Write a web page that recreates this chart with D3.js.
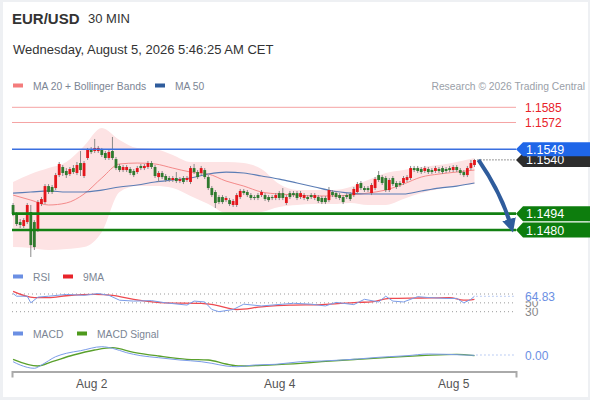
<!DOCTYPE html>
<html>
<head>
<meta charset="utf-8">
<script src="https://cdn.jsdelivr.net/npm/d3@7"></script>
<style>
  body { margin: 0; background: #eef0f3; }
  svg { display: block; font-family: "Liberation Sans", Arial, sans-serif; }
</style>
</head>
<body>
<svg width="590" height="400"></svg>
<script>
// ---- data ----
// 30 min candles, [open, high, low, close]
const ohlc = [
  [1.15014,1.15031,1.14919,1.14937],[1.14937,1.14954,1.14834,1.14851],[1.14868,1.14894,1.14817,1.14843],
  [1.14834,1.14902,1.14817,1.14885],[1.14868,1.15031,1.14851,1.15014],[1.14954,1.15014,1.14569,1.14671],
  [1.14868,1.14885,1.14629,1.14654],[1.14800,1.15056,1.14783,1.15039],[1.15022,1.15082,1.15005,1.15065],
  [1.15039,1.15193,1.15022,1.15176],[1.15176,1.15193,1.15108,1.15125],[1.15168,1.15185,1.15108,1.15125],
  [1.15159,1.15288,1.15142,1.15270],[1.15270,1.15382,1.15253,1.15365],[1.15339,1.15356,1.15262,1.15288],
  [1.15305,1.15330,1.15245,1.15270],[1.15279,1.15339,1.15262,1.15322],[1.15330,1.15356,1.15279,1.15296],
  [1.15288,1.15382,1.15270,1.15356],[1.15373,1.15476,1.15262,1.15313],[1.15262,1.15390,1.15245,1.15373],
  [1.15416,1.15502,1.15399,1.15485],[1.15493,1.15510,1.15450,1.15467],[1.15476,1.15579,1.15459,1.15502],
  [1.15476,1.15519,1.15459,1.15502],[1.15485,1.15502,1.15425,1.15442],[1.15459,1.15476,1.15399,1.15416],
  [1.15416,1.15485,1.15399,1.15467],[1.15476,1.15596,1.15399,1.15416],[1.15407,1.15425,1.15313,1.15330],
  [1.15348,1.15365,1.15296,1.15313],[1.15313,1.15356,1.15296,1.15339],[1.15313,1.15356,1.15296,1.15339],
  [1.15322,1.15339,1.15270,1.15288],[1.15305,1.15322,1.15253,1.15270],[1.15296,1.15348,1.15279,1.15330],
  [1.15348,1.15365,1.15313,1.15330],[1.15330,1.15365,1.15313,1.15348],[1.15339,1.15390,1.15322,1.15373],
  [1.15373,1.15390,1.15322,1.15339],[1.15339,1.15356,1.15245,1.15262],[1.15253,1.15305,1.15211,1.15288],
  [1.15288,1.15305,1.15236,1.15253],[1.15262,1.15279,1.15211,1.15228],[1.15245,1.15262,1.15211,1.15228],
  [1.15228,1.15262,1.15211,1.15245],[1.15245,1.15296,1.15202,1.15219],[1.15219,1.15253,1.15202,1.15236],
  [1.15245,1.15262,1.15193,1.15211],[1.15228,1.15262,1.15211,1.15245],[1.15211,1.15348,1.15193,1.15330],
  [1.15330,1.15365,1.15279,1.15296],[1.15296,1.15313,1.15236,1.15253],[1.15288,1.15348,1.15270,1.15330],
  [1.15313,1.15330,1.15236,1.15253],[1.15253,1.15270,1.15142,1.15159],[1.15159,1.15176,1.15082,1.15099],
  [1.15125,1.15142,1.14988,1.15031],[1.15082,1.15099,1.15022,1.15039],[1.15082,1.15099,1.15022,1.15039],
  [1.15056,1.15091,1.15039,1.15074],[1.15056,1.15074,1.15005,1.15022],[1.15014,1.15065,1.14997,1.15048],
  [1.15014,1.15116,1.14997,1.15099],[1.15082,1.15151,1.15065,1.15134],[1.15134,1.15151,1.15099,1.15116],
  [1.15125,1.15142,1.15082,1.15099],[1.15099,1.15116,1.15056,1.15074],[1.15082,1.15099,1.15056,1.15074],
  [1.15099,1.15116,1.15056,1.15074],[1.15099,1.15142,1.15082,1.15125],[1.15099,1.15116,1.15048,1.15065],
  [1.15082,1.15099,1.15039,1.15056],[1.15082,1.15099,1.15056,1.15074],[1.15074,1.15116,1.15056,1.15099],
  [1.15116,1.15134,1.15056,1.15074],[1.15116,1.15159,1.15056,1.15074],[1.15031,1.15099,1.15014,1.15082],
  [1.15116,1.15134,1.15065,1.15082],[1.15116,1.15134,1.15082,1.15099],[1.15116,1.15134,1.15056,1.15074],
  [1.15082,1.15134,1.15065,1.15116],[1.15074,1.15116,1.15056,1.15099],[1.15082,1.15099,1.15048,1.15065],
  [1.15099,1.15116,1.15065,1.15082],[1.15074,1.15116,1.15056,1.15099],[1.15082,1.15099,1.15031,1.15048],
  [1.15074,1.15091,1.15022,1.15039],[1.15074,1.15091,1.15022,1.15039],[1.15056,1.15168,1.15039,1.15142],
  [1.15125,1.15142,1.15082,1.15099],[1.15116,1.15134,1.15065,1.15082],[1.15099,1.15116,1.15056,1.15074],
  [1.15082,1.15099,1.15022,1.15039],[1.15099,1.15116,1.15065,1.15082],[1.15108,1.15125,1.15048,1.15065],
  [1.15099,1.15168,1.15082,1.15151],[1.15125,1.15211,1.15108,1.15193],[1.15202,1.15219,1.15142,1.15159],
  [1.15159,1.15176,1.15125,1.15142],[1.15159,1.15176,1.15125,1.15142],[1.15116,1.15202,1.15099,1.15185],
  [1.15159,1.15253,1.15142,1.15236],[1.15270,1.15305,1.15211,1.15228],[1.15253,1.15270,1.15185,1.15202],
  [1.15245,1.15262,1.15125,1.15142],[1.15142,1.15245,1.15125,1.15228],[1.15245,1.15262,1.15176,1.15193],
  [1.15202,1.15219,1.15151,1.15168],[1.15202,1.15219,1.15168,1.15185],[1.15202,1.15262,1.15185,1.15245],
  [1.15228,1.15270,1.15211,1.15253],[1.15245,1.15348,1.15228,1.15330],[1.15330,1.15348,1.15296,1.15313],
  [1.15330,1.15348,1.15288,1.15305],[1.15322,1.15339,1.15279,1.15296],[1.15305,1.15348,1.15288,1.15330],
  [1.15322,1.15339,1.15279,1.15296],[1.15313,1.15330,1.15279,1.15296],[1.15305,1.15348,1.15288,1.15330],
  [1.15322,1.15339,1.15288,1.15305],[1.15330,1.15348,1.15279,1.15296],[1.15322,1.15339,1.15288,1.15305],
  [1.15330,1.15348,1.15296,1.15313],[1.15313,1.15356,1.15296,1.15339],[1.15339,1.15356,1.15296,1.15313],
  [1.15313,1.15330,1.15270,1.15288],[1.15296,1.15313,1.15253,1.15270],[1.15270,1.15348,1.15253,1.15330],
  [1.15330,1.15399,1.15313,1.15373],[1.15356,1.15407,1.15339,1.15399]
];

// indicator samples (candle index -> value)
const bandIdx = d3.range(0, 131, 5);
const ma20    = [1.15099,1.15056,1.15014,1.15031,1.15108,1.15245,1.15365,1.15373,1.15365,1.15330,1.15296,1.15279,1.15219,1.15176,1.15125,1.15108,1.15099,1.15091,1.15091,1.15099,1.15116,1.15142,1.15193,1.15253,1.15279,1.15296,1.15313];
const bbUpper = [1.15211,1.15279,1.15330,1.15382,1.15519,1.15673,1.15570,1.15502,1.15493,1.15442,1.15382,1.15382,1.15382,1.15373,1.15322,1.15193,1.15142,1.15142,1.15142,1.15168,1.15228,1.15288,1.15313,1.15339,1.15356,1.15382,1.15416];
const bbLower = [1.14654,1.14646,1.14629,1.14637,1.14654,1.14783,1.15125,1.15176,1.15176,1.15159,1.15091,1.15022,1.14945,1.14937,1.14954,1.14997,1.15014,1.15022,1.15022,1.15031,1.15014,1.15014,1.15065,1.15116,1.15151,1.15176,1.15193];
const ma50    = [1.15116,1.15125,1.15134,1.15125,1.15125,1.15142,1.15168,1.15185,1.15211,1.15228,1.15245,1.15279,1.15296,1.15288,1.15262,1.15236,1.15202,1.15168,1.15134,1.15116,1.15108,1.15108,1.15108,1.15134,1.15159,1.15176,1.15202];

const rsiIdx  = [0,1,4,5,7,10,15,20,24,27,30,34,39,43,49,51,54,56,58,62,65,70,76,79,84,88,91,96,99,103,105,107,110,114,117,122,125,127,129,130];
const rsiVals = [71,65,65,50,63,65,69,67,71,67,56,54,55,50,45,54,52,35,30,35,47,43,47,49,47,43,51,46,58,52,65,54,52,64,62,60,60,50,58,64.83];
const rsiMaIdx  = [0,6,10,15,23,28,34,43,53,57,63,70,78,87,97,101,106,115,123,127,130];
const rsiMaVals = [76,62,62,66,69,67,58,50,49,45,35,41,45,46,51,52,60,61,62,56,58];

const macdIdx  = [0,2,6,8,12,15,19,25,28,32,36,41,47,53,56,60,63,68,74,81,87,97,103,106,111,117,122,127,130];
const macdVals = [-0.000335,-0.0005,-0.000665,-0.0005,-0.000085,0.000085,0.000215,0.000415,0.000335,0.000115,-0.000035,-0.000135,-0.00025,-0.000335,-0.000415,-0.00055,-0.000585,-0.0005,-0.000465,-0.000335,-0.0003,-0.0002,-0.000115,-0.000085,-0.000035,0.00005,0.000035,0,-0.000015];
const signalIdx  = [0,7,11,17,23,28,34,41,49,55,60,64,72,81,87,97,106,115,125,130];
const signalVals = [-0.000215,-0.00055,-0.000335,0,0.00025,0.000365,0.000135,-0.00005,-0.000215,-0.00025,-0.00045,-0.00055,-0.0005,-0.000415,-0.000335,-0.000215,-0.000115,-0.000035,0.000035,-0.000035];

const resistances = [1.1585, 1.1572];
const pivot = 1.1549;
const lastPrice = 1.1540;
const supports = [1.1494, 1.1480];
const rsiLevels = [70, 50, 30];
const rsiLast = 64.83;

const tickIdx = [22, 75, 124];
const tickLabels = ["Aug 2", "Aug 4", "Aug 5"];

// ---- scales ----
const svg = d3.select("svg");
svg.append("rect").attr("x", 3).attr("y", 2).attr("width", 585).attr("height", 395).attr("fill", "#fff");

const x = d3.scaleLinear().domain([-0.3, 141.7]).range([12, 516]);
const y = d3.scaleLinear().domain([1.1480, 1.1585]).range([230, 107.3]);
const yR = d3.scaleLinear().domain([30, 70]).range([311.7, 294]);
const yM = d3.scaleLinear().domain([-0.0007, 0.0005]).range([369, 345]);
const lastI = ohlc.length - 1;

// ---- header ----
svg.append("text").attr("x", 12).attr("y", 24).attr("font-size", 15).attr("font-weight", "bold").attr("fill", "#333").text("EUR/USD");
svg.append("text").attr("x", 88).attr("y", 23).attr("font-size", 13).attr("fill", "#333").text("30 MIN");
svg.append("text").attr("x", 13).attr("y", 54).attr("font-size", 13).attr("fill", "#333").text("Wednesday, August 5, 2026 5:46:25 AM CET");

function legend(items, ly) {
  items.forEach(it => {
    svg.append("rect").attr("x", it.x).attr("y", ly - 2.5).attr("width", 10).attr("height", 4).attr("fill", it.color);
    svg.append("text").attr("x", it.x + 20).attr("y", ly + 4).attr("font-size", 10.3).attr("fill", "#7b8594").text(it.label);
  });
}
legend([{x: 13, color: "#f47c7c", label: "MA 20 + Bollinger Bands"}, {x: 155, color: "#2f5c9c", label: "MA 50"}], 86);
svg.append("text").attr("x", 585).attr("y", 90).attr("font-size", 10.3).attr("fill", "#9aa0a8")
  .attr("text-anchor", "end").text("Research \u00a9 2026 Trading Central");

// ---- price panel ----
const band = d3.area()
  .x((d, i) => x(bandIdx[i]))
  .y0((d, i) => y(bbLower[i]))
  .y1(d => y(d))
  .curve(d3.curveMonotoneX);
svg.append("path").datum(bbUpper).attr("d", band).attr("fill", "#fde3e4");

const bandLine = d3.line().x((d, i) => x(bandIdx[i])).y(d => y(d)).curve(d3.curveMonotoneX);
svg.append("path").datum(ma20).attr("d", bandLine).attr("fill", "none").attr("stroke", "#f48a8a").attr("stroke-width", 1);
svg.append("path").datum(ma50).attr("d", bandLine).attr("fill", "none").attr("stroke", "#5b7db5").attr("stroke-width", 1.2);

// candles
const candle = svg.append("g").selectAll("g").data(ohlc).join("g");
candle.append("line")
  .attr("x1", (d, i) => x(i)).attr("x2", (d, i) => x(i))
  .attr("y1", d => y(d[1])).attr("y2", d => y(d[2]))
  .attr("stroke", "#8a8a8a").attr("stroke-width", 1);
candle.append("rect")
  .attr("x", (d, i) => x(i) - 1.4).attr("width", 2.8)
  .attr("y", d => y(Math.max(d[0], d[3])))
  .attr("height", d => Math.max(1, Math.abs(y(d[0]) - y(d[3]))))
  .attr("fill", d => d[3] >= d[0] ? "#e3161b" : "#2f7a2f");

// level lines
resistances.forEach(p => {
  svg.append("line").attr("x1", 12).attr("x2", 516).attr("y1", y(p)).attr("y2", y(p))
    .attr("stroke", "#f5a3a3").attr("stroke-width", 1);
  svg.append("text").attr("x", 525).attr("y", y(p) + 4.5).attr("font-size", 12).attr("fill", "#e8232a").text(p.toFixed(4));
});
svg.append("line").attr("x1", 12).attr("x2", 516).attr("y1", y(pivot)).attr("y2", y(pivot))
  .attr("stroke", "#3a6fe0").attr("stroke-width", 1.5);
supports.forEach(p => {
  svg.append("line").attr("x1", 12).attr("x2", 516).attr("y1", y(p)).attr("y2", y(p))
    .attr("stroke", "#128012").attr("stroke-width", 2.6);
});
svg.append("line").attr("x1", x(lastI) + 3).attr("x2", 516).attr("y1", y(lastPrice)).attr("y2", y(lastPrice))
  .attr("stroke", "#333").attr("stroke-dasharray", "1,2");

function tag(p, color, h) {
  const cy = y(p);
  svg.append("path")
    .attr("d", `M516,${cy}L523,${cy - h / 2}H590V${cy + h / 2}H523Z`)
    .attr("fill", color);
  svg.append("text").attr("x", 526).attr("y", cy + 4.5).attr("font-size", 12.5).attr("fill", "#fff").text(p.toFixed(4));
}
tag(lastPrice, "#2d2d2d", 14);
tag(pivot, "#1f66e8", 14);
tag(supports[0], "#0d7d0d", 15);
tag(supports[1], "#0d7d0d", 15);

// forecast arrow
svg.append("defs").append("marker")
  .attr("id", "head").attr("viewBox", "0 0 10 10").attr("refX", 5).attr("refY", 5)
  .attr("markerWidth", 14).attr("markerHeight", 14).attr("markerUnits", "userSpaceOnUse")
  .attr("orient", "auto")
  .append("path").attr("d", "M0,0L10,5L0,10Z").attr("fill", "#2f5c9c");
const ap = d3.path();
ap.moveTo(x(lastI) + 4, y(lastPrice));
ap.quadraticCurveTo(x(137.5), y(1.1512), x(140.3), y(1.14835));
svg.append("path").attr("d", ap.toString()).attr("fill", "none")
  .attr("stroke", "#2f5c9c").attr("stroke-width", 4).attr("marker-end", "url(#head)");

// ---- RSI panel ----
legend([{x: 13, color: "#6b8fe3", label: "RSI"}, {x: 63, color: "#e8232a", label: "9MA"}], 277);
rsiLevels.forEach(v => {
  svg.append("line").attr("x1", 12).attr("x2", 516).attr("y1", yR(v)).attr("y2", yR(v))
    .attr("stroke", "#9a9a9a").attr("stroke-dasharray", "1,3");
});
svg.append("path").datum(rsiMaVals)
  .attr("d", d3.line().x((d, i) => x(rsiMaIdx[i])).y(d => yR(d)).curve(d3.curveMonotoneX))
  .attr("fill", "none").attr("stroke", "#ee4a50").attr("stroke-width", 1.3);
svg.append("path").datum(rsiVals)
  .attr("d", d3.line().x((d, i) => x(rsiIdx[i])).y(d => yR(d)))
  .attr("fill", "none").attr("stroke", "#7b9ce8").attr("stroke-width", 1);
svg.append("line").attr("x1", x(lastI) + 2).attr("x2", 516).attr("y1", yR(rsiLast)).attr("y2", yR(rsiLast))
  .attr("stroke", "#7b9ce8").attr("stroke-dasharray", "1,3");

function sideLabel(cy, txt, color) {
  svg.append("rect").attr("x", 522).attr("y", cy - 5).attr("width", 36).attr("height", 10).attr("fill", "#fff");
  svg.append("text").attr("x", 525).attr("y", cy + 4.5).attr("font-size", 12).attr("fill", color).text(txt);
}
sideLabel(yR(30), "30", "#888");
sideLabel(yR(50), "50", "#888");
sideLabel(yR(rsiLast), rsiLast.toFixed(2), "#6b8fe3");

// ---- MACD panel ----
legend([{x: 13, color: "#6b8fe3", label: "MACD"}, {x: 77, color: "#4e9a1c", label: "MACD Signal"}], 334);
svg.append("path").datum(signalVals)
  .attr("d", d3.line().x((d, i) => x(signalIdx[i])).y(d => yM(d)).curve(d3.curveMonotoneX))
  .attr("fill", "none").attr("stroke", "#5aa02c").attr("stroke-width", 1.3);
svg.append("path").datum(macdVals)
  .attr("d", d3.line().x((d, i) => x(macdIdx[i])).y(d => yM(d)).curve(d3.curveMonotoneX))
  .attr("fill", "none").attr("stroke", "#7b9ce8").attr("stroke-width", 1);
svg.append("line").attr("x1", x(lastI) + 2).attr("x2", 516).attr("y1", yM(0)).attr("y2", yM(0))
  .attr("stroke", "#7b9ce8").attr("stroke-dasharray", "1,3");
sideLabel(yM(0), "0.00", "#6b8fe3");

// ---- time axis ----
const axis = svg.append("g").attr("transform", "translate(0,371.5)")
  .call(d3.axisBottom(x).tickValues(tickIdx).tickFormat((d, i) => tickLabels[i])
    .tickSizeInner(0).tickSizeOuter(6).tickPadding(8));
axis.select(".domain").attr("stroke", "#aaa").attr("stroke-width", 2);
axis.selectAll("text").attr("font-size", 12).attr("fill", "#555").attr("font-family", "Liberation Sans, Arial, sans-serif");
</script>
</body>
</html>
